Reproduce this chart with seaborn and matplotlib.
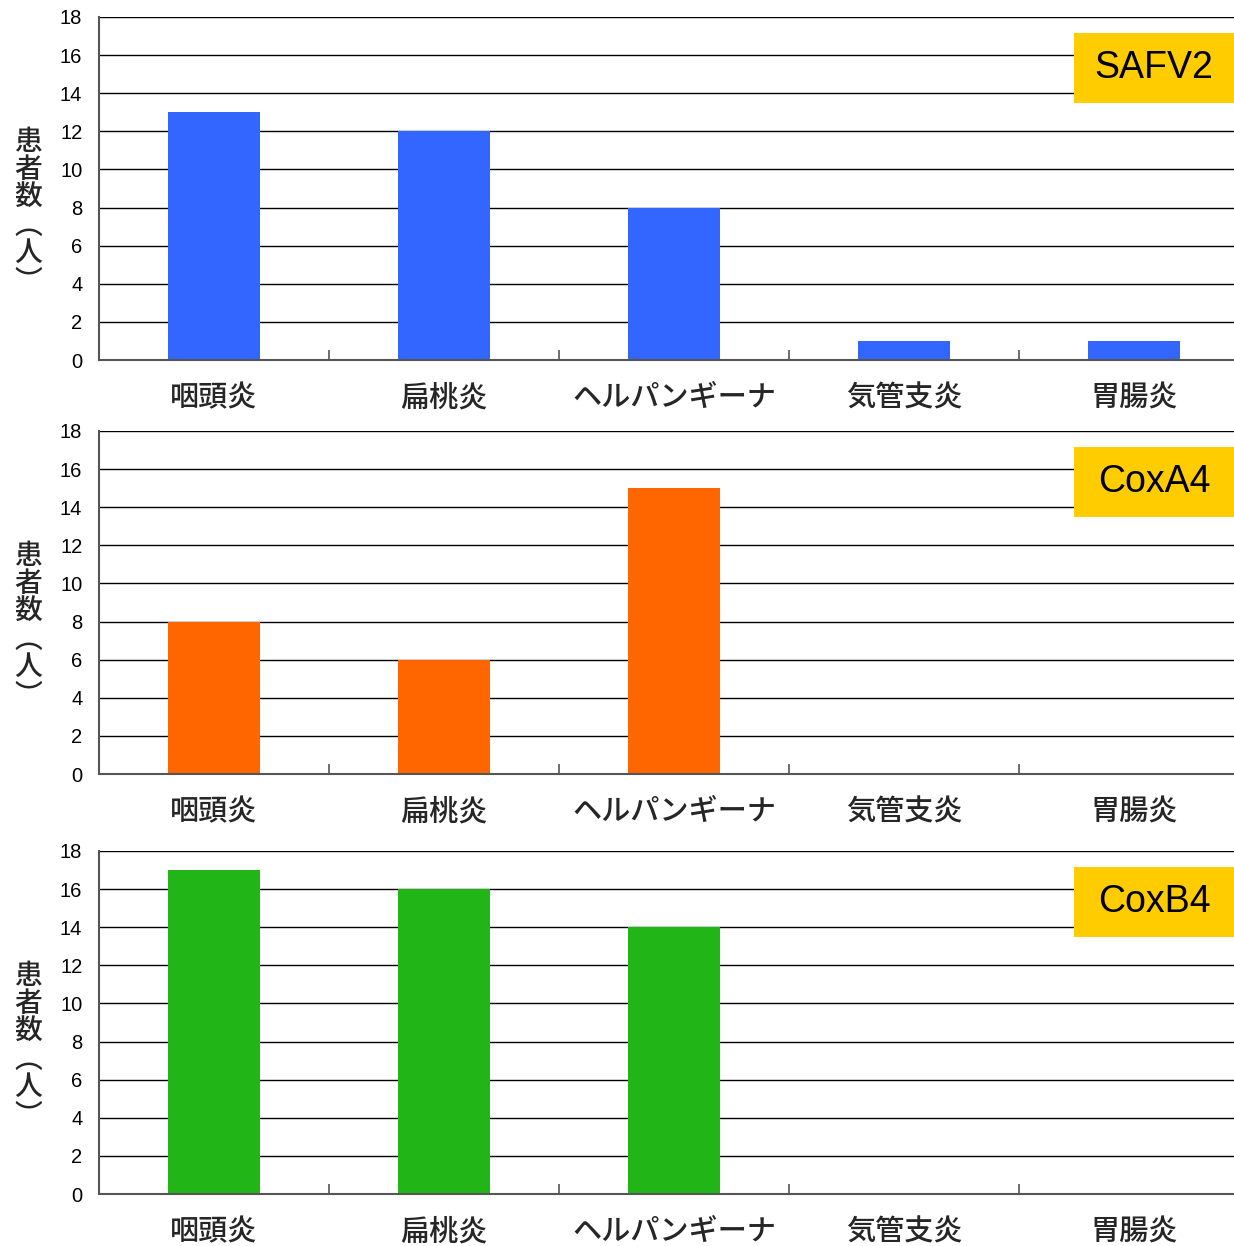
import numpy as np
import pandas as pd
import seaborn as sns
import matplotlib.pyplot as plt
from matplotlib.patches import Rectangle

# data
categories = ['咽頭炎', '扁桃炎', 'ヘルパンギーナ', '気管支炎', '胃腸炎']
safv2 = [13, 12, 8, 1, 1]
coxa4 = [8, 6, 15, 0, 0]
coxb4 = [17, 16, 14, 0, 0]
panel_names = ['SAFV2', 'CoxA4', 'CoxB4']
panel_colors = ['#3366FF', '#FF6600', '#22B518']
y_ticks = list(range(0, 19, 2))
y_label = '患\n者\n数\n︵\n人\n︶'  # stacked vertically, vertical-form brackets

sns.set_theme(style='white')
plt.rcParams['font.family'] = ['Liberation Sans', 'Noto Sans CJK JP', 'DejaVu Sans']
jp = ['Noto Sans CJK JP', 'DejaVu Sans']

fig = plt.figure(figsize=(12.34, 12.46), dpi=100)
W, H = 1234, 1246
bottoms_px = [360, 774, 1194]
left_px, right_px = 99, 1234
n = len(categories)
x_right = (right_px - left_px) / ((right_px + 15 - left_px) / n) - 0.5

for vals, name, color, b in zip([safv2, coxa4, coxb4], panel_names, panel_colors, bottoms_px):
    ax = fig.add_axes([left_px / W, 1 - b / H, (right_px - left_px) / W, 343 / H])
    df = pd.DataFrame({'cat': categories, 'n': vals})
    sns.barplot(data=df, x='cat', y='n', order=categories, color=color,
                saturation=1, width=0.4, linewidth=0, ax=ax)
    ax.set_xlim(-0.5, x_right)
    ax.set_ylim(0, 18)
    ax.set_yticks(y_ticks)
    ax.set_axisbelow(True)
    ax.yaxis.grid(True, color='black', linewidth=1.0)
    ax.xaxis.grid(False)
    for s in ['top', 'right']:
        ax.spines[s].set_visible(False)
    for s in ['left', 'bottom']:
        ax.spines[s].set_color('#555555')
        ax.spines[s].set_linewidth(1.5)
    ax.set_xlabel('')
    ax.set_ylabel('')
    ax.tick_params(axis='y', length=0, pad=12, labelsize=14.5, colors='black')
    ax.tick_params(axis='x', which='major', length=0, pad=16, labelsize=21)
    for lab in ax.get_xticklabels():
        lab.set_fontfamily(jp)
        lab.set_fontweight('medium')
    ax.set_xticks(np.arange(0.5, n - 1, 1.0), minor=True)
    ax.tick_params(axis='x', which='minor', direction='in', length=7,
                   width=1.2, color='#555555', bottom=True)

    # yellow name box in the upper right corner
    box_top = b - 327
    ax.add_patch(Rectangle((1074 / W, 1 - (box_top + 70) / H), 160 / W, 70 / H,
                           transform=fig.transFigure, fc='#FFCC00', ec='none',
                           clip_on=False, zorder=5))
    ax.text(1154 / W, 1 - (box_top + 35) / H, name, transform=fig.transFigure,
            ha='center', va='center', fontsize=27, color='black', zorder=6)

    fig.text(28 / W, 1 - (b - 149) / H, y_label, ha='center', va='center',
             fontsize=20, linespacing=0.95, family=jp, fontweight='medium')

fig.savefig('out.png', dpi=100)
